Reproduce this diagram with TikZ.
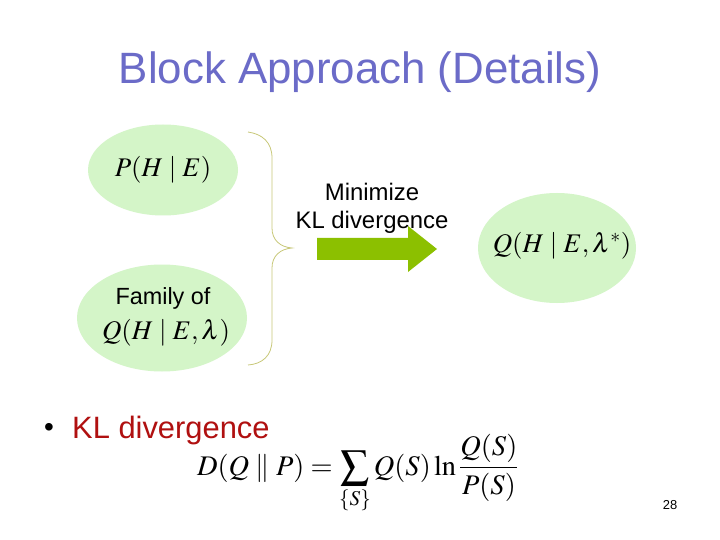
\documentclass[tikz,border=0pt]{standalone}
\usepackage{mathptmx}
\usepackage{fontspec}
\setmainfont{Liberation Sans}

\definecolor{titleblue}{RGB}{107,107,200}
\definecolor{blobgreen}{RGB}{212,245,200}
\definecolor{bracecol}{RGB}{200,200,120}
\definecolor{arrowgreen}{RGB}{140,192,0}
\definecolor{bulletred}{RGB}{176,16,16}
\newcommand{\given}{\mskip 4mu|\mskip 4mu}

\begin{document}
\begin{tikzpicture}[x=1bp, y=-1bp,
	mathfont/.style={font=\fontsize{27}{31}\selectfont, inner sep=0pt}]
	\useasboundingbox[fill=white] (0,0) rectangle (720,540);
	\node[anchor=base, text=titleblue, font=\fontsize{44}{50}\selectfont] (title) at (360,84) {Block Approach (Details)};
	% the three ellipses
	\coordinate (pc) at (163,170);
	\coordinate (fc) at (162,318);
	\coordinate (qc) at (557,248);
	\fill[blobgreen] (pc) ellipse [x radius=75, y radius=45.5];
	\fill[blobgreen] (fc) ellipse [x radius=85, y radius=53.5];
	\fill[blobgreen] (qc) ellipse [x radius=79, y radius=55];
	\node[mathfont] (phe) at (pc) {$P(H\given E)$};
	\node[anchor=base, font=\fontsize{23.5}{26}\selectfont, inner sep=0pt] (famtxt) at (163,304) {Family of};
	\node[anchor=base, mathfont] (famq) at (166,339) {$Q(H\given E,\lambda)$};
	\node[mathfont] (qstar) at (562,246) {$Q(H\given E,\lambda^{*})$};
	% brace
	\draw[bracecol, line width=0.8pt] (248,132) .. controls (262,134) and (272,142) .. (272,158) -- (272,228)
		.. controls (272,240) and (280,247) .. (292,248) .. controls (280,249) and (272,256) .. (272,268)
		-- (272,340) .. controls (272,356) and (262,364) .. (248,365);
	\node[align=center, font=\fontsize{24}{29}\selectfont, inner sep=0pt, anchor=base] (minkl) at (372,229) {Minimize\\KL divergence};
	\fill[arrowgreen] (317,238) -- (408,238) -- (408,226) -- (437,249) -- (408,272) -- (408,260) -- (317,260) -- cycle;
	% bullet
	\node[anchor=base west, font=\fontsize{28}{36}\selectfont, inner sep=0pt] (bullet) at (44,436) {\textbullet};
	\node[anchor=base west, text=bulletred, font=\fontsize{31}{36}\selectfont, inner sep=0pt] (kl) at (72,438) {KL divergence};
	\node[anchor=base west, inner sep=0pt, font=\fontsize{28.5}{34}\selectfont] (dkl) at (197,475)
		{$\displaystyle D(Q\parallel P)=\sum_{\{S\}}Q(S)\ln\frac{Q(S)}{P(S)}$};
	\node[anchor=base, font=\fontsize{13}{15}\selectfont] (pgno) at (670,509) {28};
\end{tikzpicture}
\end{document}
